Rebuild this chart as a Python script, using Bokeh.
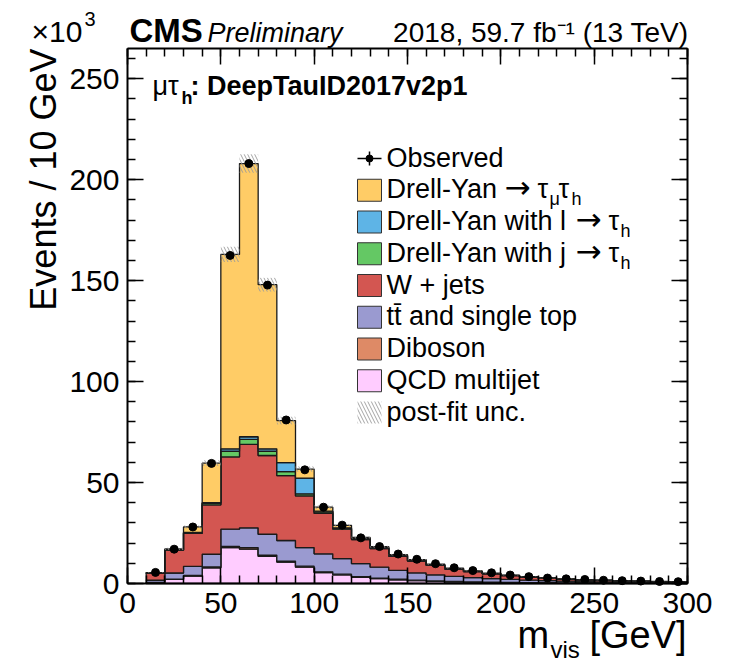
import numpy as np
from math import pi
from bokeh.plotting import figure
from bokeh.models import Label, SingleIntervalTicker, LinearAxis, Range1d
from bokeh.embed import file_html
from bokeh.resources import INLINE

# ---------------- data (thousands of events per 10 GeV) ----------------
bin_edges = list(range(10, 310, 10))
observed = [5.5, 17.0, 28.0, 59.5, 162.5, 208.0, 147.8, 81.0, 56.3, 37.8, 28.9, 22.6, 18.3,
            14.6, 12.0, 9.8, 7.8, 6.4, 5.3, 4.2, 3.4, 2.7, 2.3, 2.0, 1.6, 1.4, 1.2, 1.0, 0.9]
qcd = [0.5, 2.0, 3.7, 7.8, 17.8, 17.0, 13.5, 10.6, 8.1, 5.4, 4.3, 3.1, 2.4, 1.8, 1.4, 1.1,
       0.85, 0.7, 0.55, 0.45, 0.35, 0.3, 0.25, 0.2, 0.17, 0.14, 0.12, 0.1, 0.09]
diboson = [0.1, 0.2, 0.3, 0.4, 0.6, 0.8, 0.6, 0.5, 0.5, 0.4, 0.3, 0.3, 0.3, 0.3, 0.25, 0.2,
           0.2, 0.15, 0.15, 0.12, 0.1, 0.09, 0.08, 0.07, 0.06, 0.05, 0.05, 0.04, 0.04]
ttbar = [1.0, 3.0, 4.5, 6.3, 8.5, 9.8, 10.3, 10.2, 9.2, 8.9, 7.7, 6.4, 5.4, 4.4, 3.6, 3.0,
         2.5, 2.1, 1.75, 1.45, 1.2, 1.0, 0.85, 0.72, 0.62, 0.53, 0.45, 0.39, 0.34]
wjets = [3.5, 11.3, 16.3, 24.4, 35.8, 41.3, 39.0, 32.1, 25.6, 20.0, 14.6, 12.0, 9.2, 7.0,
         5.9, 4.7, 3.6, 2.9, 2.35, 1.85, 1.48, 1.2, 0.98, 0.83, 0.68, 0.57, 0.48, 0.41, 0.35]
dy_jtau = [0.05, 0.15, 0.3, 0.8, 2.8, 2.5, 2.1, 2.0, 1.0, 0.8, 0.4, 0.3, 0.2, 0.2, 0.15, 0.1,
           0.1, 0.08, 0.07, 0.06, 0.05, 0.04, 0.03, 0.03, 0.02, 0.02, 0.02, 0.01, 0.01]
dy_ltau = [0.05, 0.1, 0.2, 0.3, 1.2, 1.3, 1.2, 4.5, 7.8, 0.3, 0.3, 0.2, 0.2, 0.2, 0.15, 0.1,
           0.1, 0.08, 0.07, 0.05, 0.04, 0.03, 0.03, 0.02, 0.02, 0.02, 0.01, 0.01, 0.01]
dy_tautau = [0.2, 0.4, 2.7, 19.6, 96.3, 135.3, 81.3, 20.8, 4.5, 2.0, 1.2, 0.5, 0.5, 0.4, 0.4,
             0.35, 0.3, 0.25, 0.2, 0.15, 0.12, 0.1, 0.08, 0.07, 0.05, 0.05, 0.04, 0.03, 0.03]
unc = [0.2, 0.5, 0.7, 1.4, 3.8, 4.6, 3.4, 1.9, 1.3, 0.9, 0.7, 0.5, 0.45, 0.35, 0.3, 0.25,
       0.2, 0.17, 0.14, 0.12, 0.1, 0.08, 0.07, 0.06, 0.05, 0.04, 0.04, 0.03, 0.03]

colors = {"qcd": "#ffccff", "diboson": "#de8a66", "ttbar": "#9a9ad0", "wjets": "#d35651",
          "dy_jtau": "#64c864", "dy_ltau": "#5eb4e6", "dy_tautau": "#ffcc66"}
components = [("qcd", qcd), ("diboson", diboson), ("ttbar", ttbar), ("wjets", wjets),
              ("dy_jtau", dy_jtau), ("dy_ltau", dy_ltau), ("dy_tautau", dy_tautau)]

XMAX, YMAX = 300, 265
# position of the histogram box in page pixels
FL, FR, FT, FB = 127, 687, 48, 583
PW, PH = 727, 668


def dx(px):
    return (px - FL) / (FR - FL) * XMAX


def dy(py):
    return (FB - py) / (FB - FT) * YMAX


# the plotting area spans the whole canvas; the axes are pinned at the box edges
p = figure(width=PW, height=PH, min_border=0,
           x_range=Range1d(dx(0), dx(PW)), y_range=Range1d(dy(PH), dy(0)),
           output_backend="svg", toolbar_location=None,
           background_fill_color="white", border_fill_color="white")
p.xgrid.visible = False
p.ygrid.visible = False
p.outline_line_color = None

xt = SingleIntervalTicker(interval=50, num_minor_ticks=5)
yt = SingleIntervalTicker(interval=50, num_minor_ticks=5)
tick_style = dict(major_tick_in=16, major_tick_out=0, minor_tick_in=8, minor_tick_out=0,
                  axis_line_width=2, major_tick_line_width=1.5, minor_tick_line_width=1.5)
xa = p.xaxis[0]
ya = p.yaxis[0]
xa.ticker = xt
ya.ticker = yt
xa.fixed_location = 0
ya.fixed_location = 0
xa.bounds = (0, XMAX)
ya.bounds = (0, YMAX)
for ax in (xa, ya):
    for k, v in tick_style.items():
        setattr(ax, k, v)
    ax.major_label_text_font = "Liberation Sans"
    ax.major_label_text_font_size = "30px"
    ax.major_label_text_color = "black"
xa.major_label_standoff = 9
ya.major_label_standoff = 8
top_ax = LinearAxis(ticker=xt, fixed_location=YMAX, bounds=(0, XMAX),
                    major_label_text_color=None, **tick_style)
right_ax = LinearAxis(ticker=yt, fixed_location=XMAX, bounds=(0, YMAX),
                      major_label_text_color=None, **tick_style)
p.add_layout(top_ax, "above")
p.add_layout(right_ax, "right")

edges = np.array(bin_edges, dtype=float)
centers = 0.5 * (edges[:-1] + edges[1:])
xs_step = np.repeat(edges, 2)[1:-1]

lower = np.zeros(len(observed))
for key, vals in components:
    upper = lower + np.array(vals)
    px = np.concatenate([xs_step, xs_step[::-1]])
    py = np.concatenate([np.repeat(upper, 2), np.repeat(lower, 2)[::-1]])
    p.patch(px, py, fill_color=colors[key], line_color="#1a1a1a", line_width=1.3)
    lower = upper
total = lower

# post-fit uncertainty band
p.quad(left=edges[:-1], right=edges[1:], bottom=total - np.array(unc), top=total + np.array(unc),
       fill_alpha=0, line_alpha=0, hatch_pattern="\\", hatch_color="#9a9a9a",
       hatch_alpha=0.9, hatch_scale=7, hatch_weight=1)

# observed data
obs = np.array(observed)
err = np.sqrt(obs * 1000.0) / 1000.0
p.segment(x0=centers, y0=obs - err, x1=centers, y1=obs + err, line_color="black", line_width=1.5)
p.scatter(x=centers, y=obs, size=8, fill_color="black", line_color="black")

BASE = 0.38  # measured shift between requested and drawn baseline, in em


def lab(text, px, py, size, style="normal", align="left", font="Liberation Sans"):
    p.add_layout(Label(x=dx(px), y=dy(py - BASE * size), text=text, text_font=font,
                       text_font_size=f"{size}px", text_font_style=style,
                       text_align=align, text_baseline="alphabetic", text_color="black"))


# header
lab("\u00d710", 31, 42, 30)
lab("3", 84, 26, 20)
lab("CMS", 129, 43, 33, "bold")
lab("Preliminary", 207, 43, 27, "italic")
lab("2018, 59.7 fb\u207b\u00b9 (13 TeV)", 688, 43, 28, align="right")

# channel tag
lab("\u03bc\u03c4", 152, 96, 27)
lab("h", 181, 104, 18, "bold")
lab(": DeepTauID2017v2p1", 190, 96, 27, "bold")

# axis titles
p.add_layout(Label(x=dx(57 - BASE * 36), y=dy(FT), text="Events / 10 GeV",
                   text_font="Liberation Sans", text_font_size="36px", text_align="right",
                   text_baseline="alphabetic", angle=pi / 2, text_color="black"))
lab("m", 517, 649, 38)
lab("vis", 550, 658, 24)
lab("[GeV]", 589, 649, 38)

# legend
row0, rstep = 158, 31.75
bx0, bx1, tx = 357, 381, 386
legend_rows = ["Observed", "Drell-Yan", "Drell-Yan with l", "Drell-Yan with j", "W + jets",
               "tt\u0304 and single top", "Diboson", "QCD multijet", "post-fit unc."]
legend_keys = [None, "dy_tautau", "dy_ltau", "dy_jtau", "wjets", "ttbar", "diboson", "qcd", None]
for i, (txt, key) in enumerate(zip(legend_rows, legend_keys)):
    yc = row0 + i * rstep
    lab(txt, tx, yc + 9.5, 27)
    if key is not None:
        p.quad(left=dx(bx0), right=dx(bx1), bottom=dy(yc + 11), top=dy(yc - 11),
               fill_color=colors[key], line_color="#333333", line_width=1)
    elif i == 0:
        p.segment(x0=dx(bx0), y0=dy(yc), x1=dx(bx1), y1=dy(yc), line_color="black", line_width=1.5)
        p.segment(x0=dx((bx0 + bx1) / 2), y0=dy(yc - 7), x1=dx((bx0 + bx1) / 2), y1=dy(yc + 7),
                  line_color="black", line_width=1.5)
        p.scatter(x=[dx((bx0 + bx1) / 2)], y=[dy(yc)], size=7, color="black")
    else:
        p.quad(left=dx(bx0), right=dx(bx1), bottom=dy(yc + 11), top=dy(yc - 11),
               fill_alpha=0, line_alpha=0, hatch_pattern="\\", hatch_color="#9a9a9a",
               hatch_alpha=0.9, hatch_scale=7, hatch_weight=1)

# arrows, taus and subscripts of the Drell-Yan legend rows
y1 = row0 + rstep
lab("\u2192", 504, y1 + 9, 31, font="DejaVu Sans")
lab("\u03c4", 537, y1 + 9.5, 27)
lab("\u03bc", 549, y1 + 16, 18)
lab("\u03c4", 558, y1 + 9.5, 27)
lab("h", 571, y1 + 16, 18)
for k in (2, 3):
    yk = row0 + k * rstep
    lab("\u2192", 575, yk + 9, 31, font="DejaVu Sans")
    lab("\u03c4", 608, yk + 9.5, 27)
    lab("h", 620, yk + 16, 18)

open("out.html", "w").write(file_html(p, INLINE))
